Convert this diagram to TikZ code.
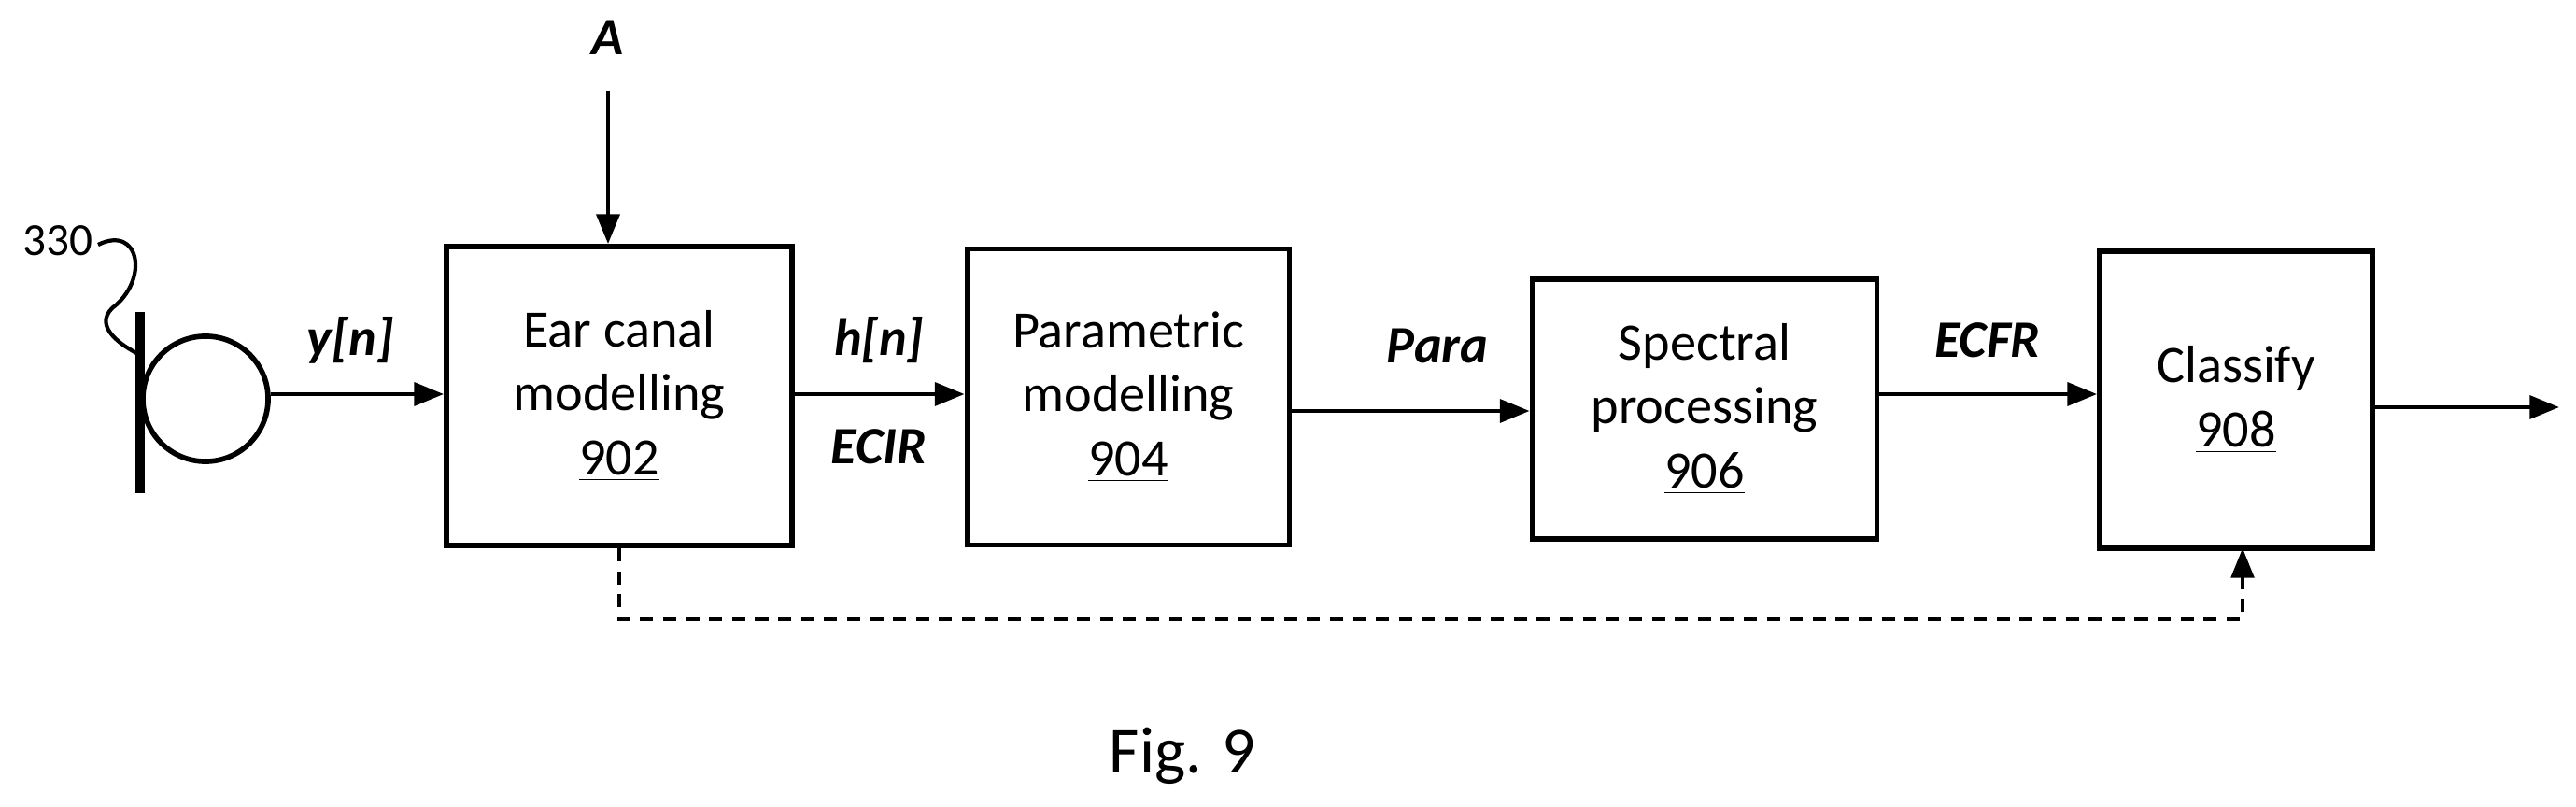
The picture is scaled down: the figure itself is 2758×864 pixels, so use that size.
\documentclass[tikz,border=0pt]{standalone}
\usepackage{fontspec}
\setmainfont{Carlito}
\usetikzlibrary{arrows.meta}
\begin{document}
\begin{tikzpicture}[x=0.01cm,y=-0.01cm,
  box/.style={draw,line width=1.6pt,align=center,font=\fontsize{16}{19.5}\selectfont,inner sep=0},
  lab/.style={font=\fontsize{16}{19}\selectfont\bfseries\itshape},
  arr/.style={line width=1.3pt,-{Triangle[length=9pt,width=7pt]}}]
\useasboundingbox (0,0) rectangle (2758,864);
\node (b1) [box,minimum width=3.7cm,minimum height=3.2cm] at (663,424) {Ear canal\\modelling\\\underline{902}};
\node (b2) [box,minimum width=3.45cm,minimum height=3.17cm] at (1208,425) {Parametric\\modelling\\\underline{904}};
\node (b3) [box,minimum width=3.69cm,minimum height=2.78cm] at (1825,438) {Spectral\\processing\\\underline{906}};
\node (b4) [box,minimum width=2.92cm,minimum height=3.18cm] at (2394,428) {Classify\\\underline{908}};
% microphone
\node (mic) [draw,circle,line width=1.6pt,minimum size=1.34cm,inner sep=0] at (220,427) {};
\draw[line width=3pt] (150,334) -- (150,528);
\node[font=\fontsize{14}{16}\selectfont] (n330) at (62,258) {330};
\draw[line width=1.2pt] (105,262) .. controls (150,240) and (160,300) .. (120,330) .. controls (100,350) and (130,370) .. (150,380);
% labels
\node[lab] (A) at (651,40) {A};
\node[lab] at (375,364) {y[n]};
\node[lab] at (941,364) {h[n]};
\node[lab] at (941,478) {ECIR};
\node[lab] at (1539,370) {Para};
\node[lab] at (2128,364) {ECFR};
\draw[arr] (A.south |- 0,97) -- (b1.north -| A.south);
\draw[arr] (mic.east |- 0,422) -- (b1.west |- 0,422);
\draw[arr] (b1.east |- 0,422) -- (b2.west |- 0,422);
\draw[arr] (b2.east |- 0,440) -- (b3.west |- 0,440);
\draw[arr] (b3.east |- 0,422) -- (b4.west |- 0,422);
\coordinate (out) at (2740,436);
\draw[arr] (b4.east |- out) -- (out);
\draw[line width=1pt,dash pattern=on 4pt off 3pt,-{Triangle[length=9pt,width=7pt]}] (b1.south) -- (663,663) -- (2401,663) -- (2401,587);
\node[font=\fontsize{20}{24}\selectfont] at (1266,809) {Fig. 9};
\end{tikzpicture}
\end{document}
